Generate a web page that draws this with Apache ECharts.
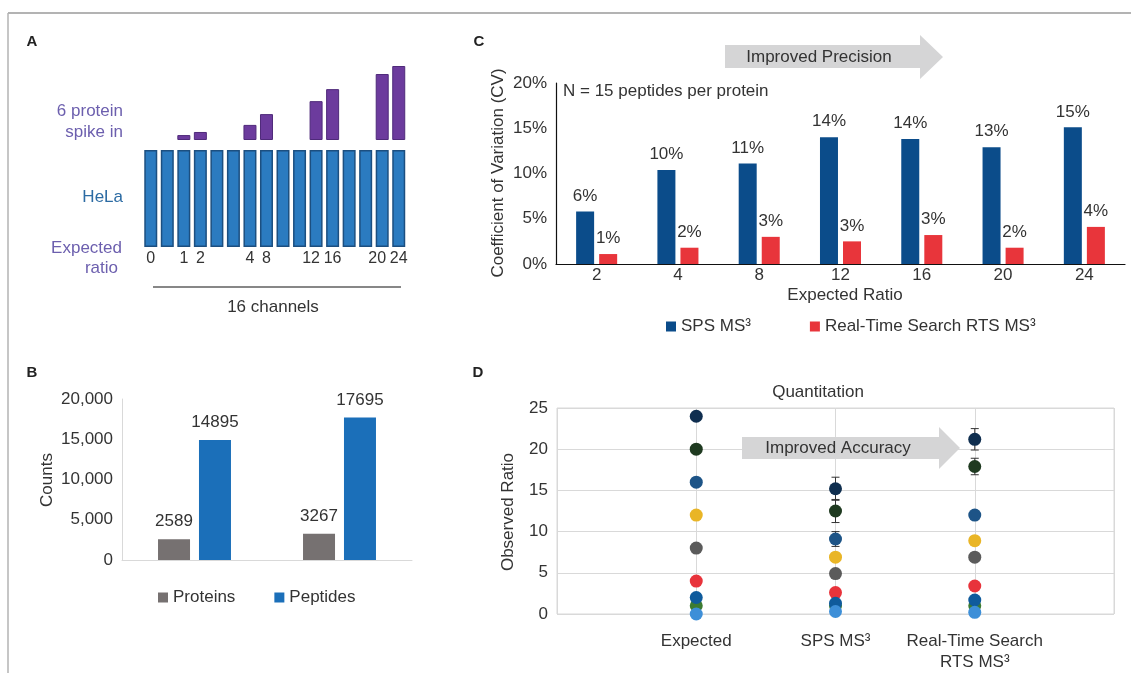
<!DOCTYPE html>
<html><head><meta charset="utf-8">
<script src="https://cdn.jsdelivr.net/npm/echarts@6/dist/echarts.min.js"></script>
<style>html,body{margin:0;padding:0;background:#fff}#c{width:1131px;height:673px}</style>
</head><body><div id="c"></div>
<script>
// ---------- Panel A ----------
const channelLabels = ['0','','1','2','','','4','8','','','12','16','','','20','24'];
const helaLevel = [1,1,1,1,1,1,1,1,1,1,1,1,1,1,1,1];
const spikeLevel = [null,null,1.6,2.6,null,null,4.9,8.4,null,null,12.6,16.5,null,null,21.4,24];
// ---------- Panel B ----------
const bCategories = ['SPS MS³','Real-Time Search RTS MS³'];
const bProteins = [2589, 3267];
const bPeptides = [14895, 17695];
// ---------- Panel C ----------
const cCategories = ['2','4','8','12','16','20','24'];
const cSps = [5.8, 10.4, 11.1, 14.0, 13.8, 12.9, 15.1];
const cRts = [1.1, 1.8, 3.0, 2.5, 3.2, 1.8, 4.1];
// ---------- Panel D ----------
const dXLabels = ['', 'Expected', 'SPS MS³', 'Real-Time Search\nRTS MS³', ''];
const dExpected = [24, 20, 16, 12, 8, 4, 1, 2, 0];
const dSps      = [15.2, 12.5, 9.1, 6.9, 4.9, 2.6, 1.0, 1.3, 0.3];
const dSpsErr   = [1.4, 1.4, 0.9, 0.4, 0.3, 0.3, 0.2, 0.2, 0.1];
const dRts      = [21.2, 17.9, 12.0, 8.9, 6.9, 3.4, 1.0, 1.7, 0.2];
const dRtsErr   = [1.3, 1.0, 0.5, 0.4, 0.3, 0.3, 0.2, 0.2, 0.1];
const dColors   = ['#0f2e4f','#1f3a20','#1d5487','#e9b526','#5b5b5b','#e8333b','#3c7b31','#0f5b9c','#3d8fd8'];

const FONT = '"Liberation Sans", Arial, sans-serif';
const TXT = '#333';

const chart = echarts.init(document.getElementById('c'), null, {renderer:'canvas'});

function txt(x, y, text, opts) {
  opts = opts || {};
  return {
    type: 'text', x: x, y: y, rotation: opts.rot || 0, z: 10,
    style: {
      text: text,
      font: (opts.bold ? 'bold ' : '') + (opts.size || 17) + 'px ' + FONT,
      fill: opts.color || TXT,
      textAlign: opts.align || 'center',
      textVerticalAlign: 'middle'
    }
  };
}
function arrow(x0, x1, x2, yb0, yb1, yh0, yh1) {
  const ym = (yh0 + yh1) / 2;
  return {
    type: 'polygon', z: 5,
    shape: {points: [[x0,yb0],[x1,yb0],[x1,yh0],[x2,ym],[x1,yh1],[x1,yb1],[x0,yb1]]},
    style: {fill: '#d5d5d6'}
  };
}

const errSeries = function (xv, vals, errs) {
  return {
    type: 'custom', xAxisIndex: 4, yAxisIndex: 4, z: 3,
    data: vals.map((v, i) => [xv, v, errs[i]]),
    encode: {x: 0, y: 1},
    renderItem: function (params, api) {
      const x = api.value(0), y = api.value(1), e = api.value(2);
      const t = api.coord([x, y + e]), b = api.coord([x, y - e]);
      const st = {stroke: '#333', lineWidth: 1};
      return {type: 'group', children: [
        {type: 'line', shape: {x1: t[0], y1: t[1], x2: b[0], y2: b[1]}, style: st},
        {type: 'line', shape: {x1: t[0]-4, y1: t[1], x2: t[0]+4, y2: t[1]}, style: st},
        {type: 'line', shape: {x1: b[0]-4, y1: b[1], x2: b[0]+4, y2: b[1]}, style: st}
      ]};
    }
  };
};

const scatterSeries = dExpected.map((e, i) => ({
  type: 'scatter', xAxisIndex: 4, yAxisIndex: 4, z: 5,
  symbolSize: 13,
  itemStyle: {color: dColors[i], opacity: 1},
  data: [[1, e], [2, dSps[i]], [3, dRts[i]]]
}));

const option = {
  animation: false,
  backgroundColor: '#fff',
  textStyle: {fontFamily: FONT},
  grid: [
    {left: 142.5, width: 264.5, top: 66, height: 74},     // A spike
    {left: 142.5, width: 264.5, top: 150, height: 97},    // A HeLa
    {left: 122, width: 290, top: 399, height: 161},       // B
    {left: 556, width: 569, top: 83, height: 181},        // C
    {left: 557, width: 557, top: 408, height: 208, show: true, borderColor: '#d9d9d9', borderWidth: 1} // D
  ],
  xAxis: [
    {gridIndex: 0, type: 'category', data: channelLabels, show: false},
    {gridIndex: 1, type: 'category', data: channelLabels,
      axisLine: {show: false}, axisTick: {show: false},
      axisLabel: {interval: 0, margin: 4, fontSize: 16, color: TXT,
        formatter: v => (v === '12' || v === '20') ? '{l|' + v + '}' : v,
        rich: {l: {fontSize: 16, color: TXT, padding: [0, 10, 0, 0]}}}},
    {gridIndex: 2, type: 'category', data: bCategories,
      axisLine: {lineStyle: {color: '#d9d9d9'}}, axisTick: {show: false}, axisLabel: {show: false}},
    {gridIndex: 3, type: 'category', data: cCategories,
      axisLine: {lineStyle: {color: '#111', width: 1.2}}, axisTick: {show: false},
      axisLabel: {margin: 3, fontSize: 17, color: TXT}},
    {gridIndex: 4, type: 'value', min: 0, max: 4, interval: 1,
      axisLine: {show: false}, axisTick: {show: false},
      splitLine: {show: true, lineStyle: {color: '#d9d9d9'}},
      axisLabel: {margin: 17, fontSize: 17, color: TXT, lineHeight: 21,
        formatter: v => dXLabels[v] || ''}}
  ],
  yAxis: [
    {gridIndex: 0, type: 'value', min: 0, max: 24, show: false},
    {gridIndex: 1, type: 'value', min: 0, max: 1, show: false},
    {gridIndex: 2, type: 'value', min: 0, max: 20000, interval: 5000,
      axisLine: {show: true, lineStyle: {color: '#d9d9d9'}}, axisTick: {show: false},
      splitLine: {show: false},
      axisLabel: {margin: 9, fontSize: 17, color: TXT, formatter: v => v.toLocaleString('en-US')}},
    {gridIndex: 3, type: 'value', min: 0, max: 20, interval: 5,
      axisLine: {show: true, lineStyle: {color: '#111', width: 1.2}}, axisTick: {show: false},
      splitLine: {show: false},
      axisLabel: {margin: 9, fontSize: 17, color: TXT, formatter: '{value}%'}},
    {gridIndex: 4, type: 'value', min: 0, max: 25, interval: 5,
      axisLine: {show: false}, axisTick: {show: false},
      splitLine: {show: true, lineStyle: {color: '#d9d9d9'}},
      axisLabel: {margin: 9, fontSize: 17, color: TXT}}
  ],
  legend: [
    {left: 153, top: 584, itemWidth: 10, itemHeight: 10, itemGap: 39, icon: 'rect', selectedMode: false,
      textStyle: {fontSize: 17, color: TXT, fontFamily: FONT}, data: ['Proteins', 'Peptides']},
    {left: 661, top: 313, itemWidth: 10, itemHeight: 10, itemGap: 59, icon: 'rect', selectedMode: false,
      textStyle: {fontSize: 17, color: TXT, fontFamily: FONT}, data: ['SPS MS³', 'Real-Time Search RTS MS³']}
  ],
  series: [
    {type: 'bar', name: 'spike', xAxisIndex: 0, yAxisIndex: 0, data: spikeLevel, barWidth: 13,
      itemStyle: {color: '#6c3b9d', borderColor: '#4f2a7a', borderWidth: 1}},
    {type: 'bar', name: 'HeLa', xAxisIndex: 1, yAxisIndex: 1, data: helaLevel, barWidth: 13,
      itemStyle: {color: '#2b7bc0', borderColor: '#1c4f80', borderWidth: 1.5}},
    {type: 'bar', name: 'Proteins', xAxisIndex: 2, yAxisIndex: 2, data: bProteins, barWidth: 32, barGap: '28%',
      itemStyle: {color: '#767171'},
      label: {show: true, position: 'top', distance: 9, fontSize: 17, color: TXT}},
    {type: 'bar', name: 'Peptides', xAxisIndex: 2, yAxisIndex: 2, data: bPeptides, barWidth: 32, barGap: '28%',
      itemStyle: {color: '#1b6fb9'},
      label: {show: true, position: 'top', distance: 9, fontSize: 17, color: TXT}},
    {type: 'bar', name: 'SPS MS³', xAxisIndex: 3, yAxisIndex: 3, data: cSps, barWidth: 18, barGap: '28%',
      itemStyle: {color: '#0b4c8a'},
      label: {show: true, position: 'top', distance: 7, fontSize: 17, color: TXT, formatter: p => Math.round(p.value) + '%'}},
    {type: 'bar', name: 'Real-Time Search RTS MS³', xAxisIndex: 3, yAxisIndex: 3, data: cRts, barWidth: 18, barGap: '28%',
      itemStyle: {color: '#e8353b'},
      label: {show: true, position: 'top', distance: 7, fontSize: 17, color: TXT, formatter: p => Math.round(p.value) + '%'}},
    errSeries(2, dSps, dSpsErr),
    errSeries(3, dRts, dRtsErr)
  ].concat(scatterSeries),
  graphic: [
    {type: 'line', z: 1, shape: {x1: 8, y1: 13, x2: 1131, y2: 13}, style: {stroke: '#b3b3b3', lineWidth: 2}},
    {type: 'line', z: 1, shape: {x1: 8, y1: 13, x2: 8, y2: 673}, style: {stroke: '#b3b3b3', lineWidth: 1.5}},
    txt(32, 42, 'A', {bold: true, size: 15, color: '#222'}),
    txt(32, 373, 'B', {bold: true, size: 15, color: '#222'}),
    txt(479, 42, 'C', {bold: true, size: 15, color: '#222'}),
    txt(478, 373, 'D', {bold: true, size: 15, color: '#222'}),
    // Panel A annotations
    txt(123, 111, '6 protein', {align: 'right', color: '#6c5fae'}),
    txt(123, 132, 'spike in', {align: 'right', color: '#6c5fae'}),
    txt(123, 197, 'HeLa', {align: 'right', color: '#2c6ba3'}),
    txt(122, 248, 'Expected', {align: 'right', color: '#6c5fae'}),
    txt(118, 268, 'ratio', {align: 'right', color: '#6c5fae'}),
    {type: 'line', z: 1, shape: {x1: 153, y1: 287, x2: 401, y2: 287}, style: {stroke: '#111', lineWidth: 1.2}},
    txt(273, 307, '16 channels'),
    // Panel B
    txt(47, 480, 'Counts', {rot: Math.PI / 2}),
    // Panel C
    arrow(725, 920, 943, 45, 68, 35, 79),
    txt(819, 57, 'Improved Precision'),
    txt(563, 91, 'N = 15 peptides per protein', {align: 'left'}),
    txt(498, 173, 'Coefficient of Variation (CV)', {rot: Math.PI / 2}),
    txt(845, 295, 'Expected Ratio'),
    // Panel D
    txt(818, 392, 'Quantitation'),
    txt(508, 512, 'Observed Ratio', {rot: Math.PI / 2}),
    arrow(742, 939, 960, 437, 459, 427, 469),
    txt(838, 448, 'Improved Accuracy')
  ]
};
chart.setOption(option);
</script>
</body></html>
